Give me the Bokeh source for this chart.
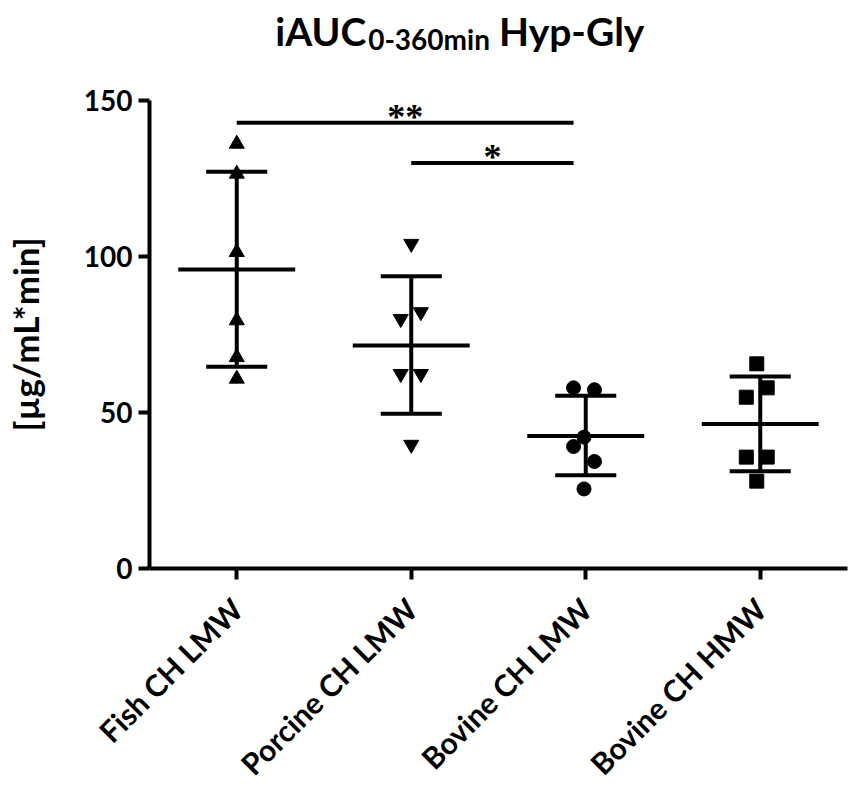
import numpy as np
from bokeh.plotting import figure
from bokeh.layouts import column
from bokeh.models import Range1d, FixedTicker, LabelSet, ColumnDataSource
from bokeh.core.properties import value
from bokeh.embed import file_html
from bokeh.resources import INLINE

categories = ["Fish CH LMW", "Porcine CH LMW", "Bovine CH LMW", "Bovine CH HMW"]

fish_vals = [136.1, 126.5, 101.4, 79.5, 67.7, 60.8]
fish_off = [0, 0, 0, 0, 0, 0]
porcine_vals = [104.1, 80.0, 82.2, 62.4, 62.4, 39.7]
porcine_off = [0, -0.06, 0.055, -0.06, 0.055, 0]
bovl_vals = [57.9, 57.3, 42.1, 39.1, 34.3, 25.5]
bovl_off = [-0.07, 0.05, -0.01, -0.07, 0.05, -0.01]
bovh_vals = [65.6, 57.9, 54.9, 35.7, 35.7, 28.0]
bovh_off = [-0.02, 0.04, -0.08, -0.08, 0.04, -0.02]

means = [95.8, 71.5, 42.5, 46.3]
sd_upper = [127.2, 93.7, 55.4, 61.5]
sd_lower = [64.7, 49.6, 29.9, 31.2]

sig_x0 = [1, 2]
sig_x1 = [2.93, 2.93]
sig_y = [142.9, 130.0]
sig_text = ["**", "*"]

title_main = "iAUC"
title_sub = "0-360min"
title_rest = "Hyp-Gly"

FONT = "Lato"
W = 848
LEFT, RIGHT = 148, 2
FRAME_W = W - LEFT - RIGHT
TITLE_H, MAIN_TOP, FRAME_H = 80, 20, 468

xs = list(range(1, len(categories) + 1))

# ---------- title strip (frame aligned with the main plot's frame) ----------
tf = figure(width=W, height=TITLE_H, output_backend="svg", toolbar_location=None, title=None,
            x_range=Range1d(LEFT, W - RIGHT), y_range=Range1d(TITLE_H, 0),
            x_axis_location=None, y_axis_location=None,
            min_border_left=LEFT, min_border_right=RIGHT, min_border_top=0, min_border_bottom=0)
tf.outline_line_color = None
tf.grid.visible = False
tf.text(x=[274, 498], y=[30, 30], text=[title_main, title_rest], text_font=value(FONT),
        text_font_style="bold", text_font_size="39px", text_align="left",
        text_baseline="alphabetic", text_color="black")
tf.text(x=[367], y=[38], text=[title_sub], text_font=value(FONT),
        text_font_style="bold", text_font_size="28px", text_align="left",
        text_baseline="alphabetic", text_color="black")

# ---------- main plot ----------
p = figure(frame_width=FRAME_W, frame_height=FRAME_H, output_backend="svg", toolbar_location=None,
           title=None, x_range=Range1d(0.5, 4.5), y_range=Range1d(0, 150),
           min_border_left=LEFT, min_border_right=RIGHT, min_border_top=MAIN_TOP,
           min_border_bottom=5)
p.outline_line_color = None
p.grid.visible = False
p.background_fill_color = "white"

for ax in (p.xaxis[0], p.yaxis[0]):
    ax.axis_line_width = 4
    ax.axis_line_color = "black"
    ax.major_tick_line_width = 4
    ax.major_tick_line_color = "black"
    ax.major_tick_out = 11
    ax.major_tick_in = 0
    ax.minor_tick_line_color = None
    ax.major_label_text_font = FONT
    ax.major_label_text_font_style = "bold"
    ax.major_label_text_font_size = "28px"
    ax.major_label_text_color = "black"

p.xaxis.ticker = FixedTicker(ticks=xs)
p.xaxis.major_label_overrides = {i: c for i, c in zip(xs, categories)}
p.xaxis.major_label_orientation = np.pi / 4
p.xaxis.major_label_text_font_size = "30px"
p.xaxis.major_label_standoff = 24

p.yaxis.ticker = FixedTicker(ticks=[0, 50, 100, 150])
p.yaxis.major_label_standoff = 6
p.yaxis.axis_label = "[µg/mL*min]"
p.yaxis.axis_label_text_font = FONT
p.yaxis.axis_label_text_font_style = "bold"
p.yaxis.axis_label_text_font_size = "35px"
p.yaxis.axis_label_text_color = "black"
p.yaxis.axis_label_standoff = 35

mx = np.array(xs, dtype=float)
p.segment(x0=mx - 0.335, x1=mx + 0.335, y0=means, y1=means, line_width=4, line_color="black")
p.segment(x0=mx, x1=mx, y0=sd_lower, y1=sd_upper, line_width=4, line_color="black")
p.segment(x0=mx - 0.175, x1=mx + 0.175, y0=sd_upper, y1=sd_upper, line_width=4, line_color="black")
p.segment(x0=mx - 0.175, x1=mx + 0.175, y0=sd_lower, y1=sd_lower, line_width=4, line_color="black")

p.scatter(x=[1 + o for o in fish_off], y=fish_vals, marker="triangle", size=15,
          fill_color="black", line_color="black")
p.scatter(x=[2 + o for o in porcine_off], y=porcine_vals, marker="inverted_triangle", size=15,
          fill_color="black", line_color="black")
p.scatter(x=[3 + o for o in bovl_off], y=bovl_vals, marker="circle", size=14,
          fill_color="black", line_color="black")
p.scatter(x=[4 + o for o in bovh_off], y=bovh_vals, marker="square", size=14,
          fill_color="black", line_color="black")

p.segment(x0=sig_x0, x1=sig_x1, y0=sig_y, y1=sig_y, line_width=4, line_color="black")
sig_src = ColumnDataSource(dict(x=[(a + b) / 2 for a, b in zip(sig_x0, sig_x1)], y=sig_y, t=sig_text))
p.add_layout(LabelSet(x="x", y="y", text="t", source=sig_src, text_font=FONT, text_font_style="bold",
                      text_font_size="36px", text_align="center", text_baseline="alphabetic",
                      y_offset=-6, text_color="black"))

layout = column(tf, p, spacing=0)
open("out.html", "w").write(file_html(layout, INLINE))
